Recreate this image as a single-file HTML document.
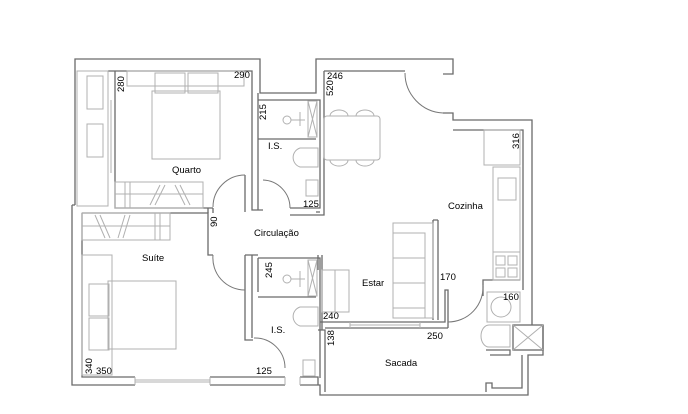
<!DOCTYPE html>
<html><head><meta charset="utf-8"><style>
html,body{margin:0;padding:0;background:#fff;}
svg{display:block;}
text{font-family:"Liberation Sans",sans-serif;font-size:9.5px;fill:#000;}
.w{fill:none;stroke:#6a6a6a;stroke-width:1.3;}
.f{fill:none;stroke:#b0b0b0;stroke-width:1;}
.d{fill:none;stroke:#777;stroke-width:1;}
</style></head><body>
<svg width="688" height="414" viewBox="0 0 688 414" xmlns="http://www.w3.org/2000/svg">
<!-- outer walls -->
<path class="w" d="M75,205 V59 H260 V93 H316 V59 H453 V74 H443"/>
<path class="w" d="M443,113 H453 V120 H532 V325"/>
<path class="w" d="M543,325 V355 H528 V395 H490 M522,355 V388 H492 V383 H486 V392"/>
<path class="w" d="M72,205 H75 M72,205 V385 H135"/>
<path class="w" d="M210,385 H285 M300,385 H320 V395 H490"/>
<!-- inner lines -->
<path class="w" d="M108,71 H252 V175 M245,175 V212 M115,71 V208 H213"/>
<path class="w" d="M82,213 H208 V255 H213 M82,213 V377 H135"/>
<path class="w" d="M208,213 V208 M213,213 V208"/>
<path class="w" d="M258,93 V100 H320 V208 H290 M258,100 V210 H263 M252,175 V210 H258"/>
<path class="w" d="M258,139 H316"/>
<path class="w" d="M324,71 H405 M324,71 V215 H290 M316,212 H320"/>
<path class="w" d="M453,130 H523 V290"/>
<path class="w" d="M245,255 H258 M245,255 V340 H253 M252,255 V338"/>
<path class="w" d="M258,258 H320 V378 M258,297 H316 M258,258 V292"/>
<path class="w" d="M210,377 H285 M300,377 H318 V385"/>
<path class="w" d="M318,255 V270 M322,255 V330 M318,330 H325 V392"/>
<path class="w" d="M320,322 H445 V290 H448 V328 M325,328 H448 M433,220 V320 M438,220 V320 M433,220 H438"/>
<path class="w" d="M483,290 V280 H520 M483,290 V296 M486,350 H510 V355 H490"/>
<!-- windows -->
<path class="f" d="M108,100 V173 M111,100 V173 M135,377 V385 M210,377 V385 M135,380 H210 M135,382 H210 M285,377 V385 M300,377 V385"/>
<path class="f" d="M350,322 V328 M420,322 V328 M350,325 H420"/>
<!-- doors -->
<path class="d" d="M245,175 A32,32 0 0 0 213,207 M263,180 A28,28 0 0 1 290,208 M213,255 A32,32 0 0 0 245,290 M254,338 A30,30 0 0 1 285,368 M405,73 A40,40 0 0 0 443,113 M483,285 A35,35 0 0 1 448,322"/>
<!-- left closet -->
<rect class="f" x="77" y="71" width="31" height="135"/>
<rect class="f" x="87" y="76" width="16" height="33"/>
<rect class="f" x="87" y="124" width="16" height="33"/>
<!-- bed quarto -->
<rect class="f" x="127" y="71" width="117" height="15"/>
<rect class="f" x="155" y="73" width="30" height="20"/>
<rect class="f" x="188" y="73" width="30" height="20"/>
<rect class="f" x="152" y="91" width="68" height="68"/>
<!-- wardrobes -->
<rect class="f" x="115" y="182" width="88" height="26"/>
<path class="f" d="M115,194 H203 M125,182 V208 M130,182 V208 M160,185 L150,205 M165,185 L155,205 M175,185 L185,205 M180,185 L190,205"/>
<rect class="f" x="82" y="213" width="88" height="27"/>
<path class="f" d="M82,226 H170 M155,213 V240 M160,213 V240 M95,215 L105,238 M100,215 L110,238 M125,215 L118,238 M130,215 L123,238"/>
<!-- bed suite -->
<rect class="f" x="82" y="255" width="30" height="120"/>
<rect class="f" x="89" y="284" width="20" height="32"/>
<rect class="f" x="89" y="318" width="20" height="32"/>
<rect class="f" x="108" y="281" width="68" height="68"/>
<!-- bathrooms -->
<circle class="f" cx="287" cy="120" r="4"/><path class="f" d="M291,120 H305 M300,112 V126"/>
<rect class="f" x="308" y="101" width="9" height="36"/><path class="f" d="M308,101 L317,137 M317,101 L308,137"/>
<path class="f" d="M300,148 H318 V167 H300 A10,10 0 0 1 300,148 Z"/>
<rect class="f" x="306" y="180" width="12" height="16"/>
<circle class="f" cx="287" cy="279" r="4"/><path class="f" d="M291,279 H305 M300,271 V287"/>
<rect class="f" x="308" y="260" width="9" height="36"/><path class="f" d="M308,260 L317,296 M317,260 L308,296"/>
<path class="f" d="M300,307 H318 V326 H300 A10,10 0 0 1 300,307 Z"/>
<rect class="f" x="303" y="360" width="12" height="16"/>
<!-- dining -->
<rect class="f" x="324" y="116" width="56" height="44" rx="3"/>
<path class="f" d="M330,116 A9,6 0 0 1 348,116 M356,116 A9,6 0 0 1 374,116 M330,160 A9,6 0 0 0 348,160 M356,160 A9,6 0 0 0 374,160"/>
<!-- kitchen -->
<rect class="f" x="484" y="130" width="36" height="35"/>
<rect class="f" x="493" y="167" width="27" height="85"/>
<rect class="f" x="498" y="178" width="18" height="22"/>
<rect class="f" x="493" y="252" width="27" height="28"/>
<rect class="f" x="496" y="256" width="9" height="9"/><rect class="f" x="508" y="256" width="9" height="9"/>
<rect class="f" x="496" y="268" width="9" height="9"/><rect class="f" x="508" y="268" width="9" height="9"/>
<rect class="f" x="487" y="292" width="33" height="30"/>
<circle class="f" cx="501" cy="307" r="10"/>
<path class="f" d="M489,325 H510 V347 H489 A8,11 0 0 1 489,325 Z"/>
<rect class="w" x="513" y="325" width="30" height="25"/>
<path class="f" d="M513,325 L543,350 M543,325 L513,350"/>
<!-- sofa and tv -->
<rect class="f" x="393" y="223" width="40" height="95"/>
<path class="f" d="M393,233 H425 V318 M393,258 H425 M393,283 H425 M393,308 H425"/>
<rect class="f" x="322" y="270" width="27" height="42"/>
<path class="f" d="M335,270 V312"/>
<!-- labels -->
<text x="0" y="0" transform="translate(124,92) rotate(-90)">280</text>
<text x="234" y="78">290</text>
<text x="172" y="173">Quarto</text>
<text x="0" y="0" transform="translate(266,120) rotate(-90)">215</text>
<text x="268" y="149">I.S.</text>
<text x="303" y="207">125</text>
<text x="327" y="79">246</text>
<text x="0" y="0" transform="translate(333,96) rotate(-90)">520</text>
<text x="0" y="0" transform="translate(519,149) rotate(-90)">316</text>
<text x="448" y="209">Cozinha</text>
<text x="0" y="0" transform="translate(217,227) rotate(-90)">90</text>
<text x="254" y="236">Circulação</text>
<text x="142" y="261">Suíte</text>
<text x="0" y="0" transform="translate(272,278) rotate(-90)">245</text>
<text x="362" y="286">Estar</text>
<text x="440" y="280">170</text>
<text x="503" y="300">160</text>
<text x="323" y="319">240</text>
<text x="427" y="339">250</text>
<text x="0" y="0" transform="translate(334,346) rotate(-90)">138</text>
<text x="271" y="333">I.S.</text>
<text x="0" y="0" transform="translate(92,374) rotate(-90)">340</text>
<text x="96" y="374">350</text>
<text x="256" y="374">125</text>
<text x="385" y="366">Sacada</text>
</svg>
</body></html>
